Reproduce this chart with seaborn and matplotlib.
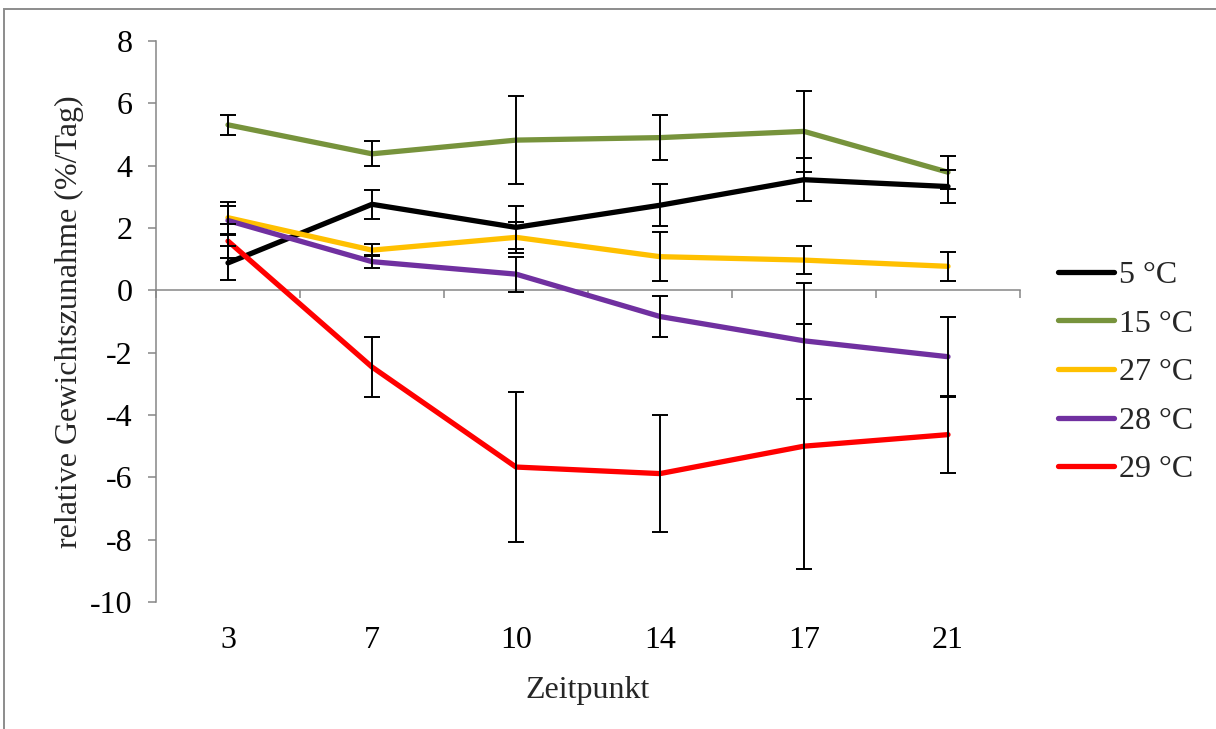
import numpy as np
import pandas as pd
import matplotlib
matplotlib.use("Agg")
import matplotlib.pyplot as plt
import seaborn as sns
from matplotlib.patches import Rectangle

# ---- data ----
zeitpunkte = ["3", "7", "10", "14", "17", "21"]
serien = ["5 °C", "15 °C", "27 °C", "28 °C", "29 °C"]

mw_5 = [0.88, 2.76, 2.02, 2.73, 3.55, 3.33]
sd_5 = [0.55, 0.47, 0.70, 0.68, 0.68, 0.53]
mw_15 = [5.31, 4.38, 4.82, 4.90, 5.10, 3.79]
sd_15 = [0.32, 0.40, 1.41, 0.72, 1.29, 0.53]
mw_27 = [2.33, 1.29, 1.70, 1.08, 0.97, 0.77]
sd_27 = [0.52, 0.20, 0.50, 0.78, 0.44, 0.47]
mw_28 = [2.24, 0.92, 0.52, -0.84, -1.62, -2.13]
sd_28 = [0.45, 0.21, 0.56, 0.67, 1.86, 1.28]
mw_29 = [1.58, -2.46, -5.67, -5.88, -5.00, -4.63]
sd_29 = [0.55, 0.97, 2.42, 1.89, 3.93, 1.23]

y_ticks = [-10, -8, -6, -4, -2, 0, 2, 4, 6, 8]
farben = ["#000000", "#77933C", "#FFC000", "#7030A0", "#FF0000"]

mittel = [mw_5, mw_15, mw_27, mw_28, mw_29]
fehler = [sd_5, sd_15, sd_27, sd_28, sd_29]

pos = list(range(len(zeitpunkte)))
rows = []
for s, m, e in zip(serien, mittel, fehler):
    for p, v, f in zip(pos, m, e):
        rows.append({"pos": p, "wert": v, "fehler": f, "serie": s})
df = pd.DataFrame(rows)

# ---- style ----
sns.set_theme(style="white")
plt.rcParams["font.family"] = ["Liberation Serif", "DejaVu Serif"]
FS = 23
grau = "#868686"

fig = plt.figure(figsize=(12.16, 7.29), dpi=100)
W, H = 1216, 729
ax = fig.add_axes([156 / W, 1 - 602 / H, (1020 - 156) / W, (602 - 41) / H])

sns.lineplot(data=df, x="pos", y="wert", hue="serie", hue_order=serien,
             palette=farben, linewidth=3.8, ax=ax, zorder=2,
             solid_capstyle="round", solid_joinstyle="round")

for s in serien:
    d = df[df["serie"] == s]
    ax.errorbar(d["pos"], d["wert"], yerr=d["fehler"], fmt="none",
                ecolor="black", elinewidth=1.4, capsize=5.5, capthick=1.4,
                zorder=3)

ax.set_xlim(-0.5, len(zeitpunkte) - 0.5)
ax.set_ylim(min(y_ticks), max(y_ticks))
ax.set_yticks(y_ticks)
ax.set_yticklabels([str(t) for t in y_ticks])
ax.set_xticks(pos)
ax.set_xticklabels(zeitpunkte)

for sp in ["top", "right", "bottom"]:
    ax.spines[sp].set_visible(False)
ax.spines["left"].set_color(grau)
ax.spines["left"].set_linewidth(1.1)

ax.tick_params(axis="x", length=0, pad=17, labelsize=FS, colors="black")
ax.tick_params(axis="y", direction="out", length=6, width=1.1, color=grau,
               pad=11, labelsize=FS, labelcolor="black", left=True)
ax.grid(False)

# horizontal axis line at y = 0 with category boundary ticks
sec = ax.secondary_xaxis(0, transform=ax.transData)
sec.set_xticks([p - 0.5 for p in pos] + [pos[-1] + 0.5])
sec.set_xticklabels([])
sec.tick_params(direction="out", length=6, width=1.1, color=grau)
sec.spines["bottom"].set_color(grau)
sec.spines["bottom"].set_linewidth(1.1)

ax.set_xlabel("Zeitpunkt", fontsize=FS)
ax.set_ylabel("relative Gewichtszunahme (%/Tag)", fontsize=FS)
ax.xaxis.set_label_coords(0.5, (602 - 676) / 561)
ax.yaxis.set_label_coords((84 - 156) / 864, 0.5)

sns.move_legend(ax, "center left", bbox_to_anchor=(1058 / W, 1 - 372.5 / H),
                bbox_transform=fig.transFigure, frameon=False, title=None,
                fontsize=FS, handlelength=1.75, handletextpad=0.15,
                labelspacing=0.6, borderpad=0, borderaxespad=0)
for ln in ax.get_legend().get_lines():
    ln.set_linewidth(3.8)
    ln.set_solid_capstyle("round")

# outer chart frame
fig.patches.append(Rectangle((4 / W, -0.2), 1.5, 1.2 - 9 / H,
                             transform=fig.transFigure, fill=False,
                             edgecolor="#8c8c8c", linewidth=1.4))

fig.savefig("out.png", dpi=100)
